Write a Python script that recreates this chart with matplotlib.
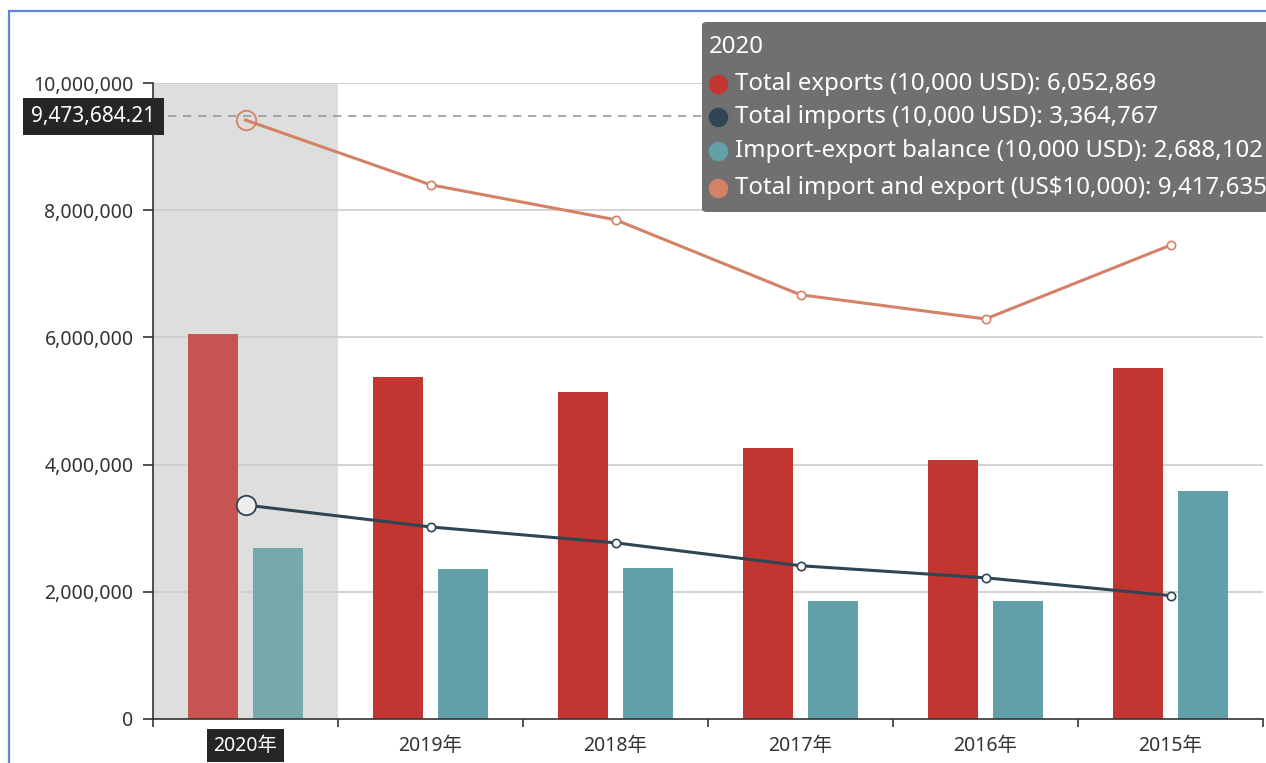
import numpy as np
import matplotlib.pyplot as plt
from matplotlib.patches import FancyBboxPatch, Rectangle
from matplotlib.lines import Line2D
from matplotlib.ticker import FuncFormatter

plt.rcParams['font.family'] = ['Noto Sans', 'Noto Sans CJK SC', 'DejaVu Sans']

years = ['2020年', '2019年', '2018年', '2017年', '2016年', '2015年']
exports = [6052869, 5380000, 5140000, 4260000, 4070000, 5520000]
imports = [3364767, 3020000, 2770000, 2410000, 2220000, 1940000]
balance = [2688102, 2360000, 2370000, 1860000, 1860000, 3580000]
total = [9417635, 8400000, 7850000, 6670000, 6290000, 7450000]
pointer_value = 9473684.21

tooltip_title = '2020'
tooltip_rows = [
    ('Total exports (10,000 USD): 6,052,869', '#c23531'),
    ('Total imports (10,000 USD): 3,364,767', '#2f4554'),
    ('Import-export balance (10,000 USD): 2,688,102', '#61a0a8'),
    ('Total import and export (US$10,000): 9,417,635', '#d48265'),
]

W, H = 1266, 763
fig = plt.figure(figsize=(W / 100, H / 100), dpi=100)


def fx(x):
    return x / W


def fy(y):
    return 1 - y / H


ax = fig.add_axes([fx(153), fy(719), fx(1263) - fx(153), fy(83) - fy(719)])

x = np.arange(len(years))
bw = 50 / 185
off = 32.5 / 185

# axis pointer shadow on 2020
ax.axvspan(-0.5, 0.5, color='#dedede', zorder=0, lw=0)

ex_colors = ['#c75450'] + ['#c23531'] * (len(years) - 1)
bal_colors = ['#77a8ad'] + ['#61a0a8'] * (len(years) - 1)
ax.bar(x - off, exports, width=bw, color=ex_colors, zorder=2)
ax.bar(x + off, balance, width=bw, color=bal_colors, zorder=2)

rest = list(range(1, len(years)))
ax.plot(x, imports, color='#2f4554', lw=2.2, marker='o', ms=6,
        mfc='white', mec='#2f4554', mew=1.2, markevery=rest, zorder=4)
ax.plot(x[:1], imports[:1], ls='none', marker='o', ms=14,
        mfc='#eeeeee', mec='#2f4554', mew=1.3, zorder=5)
ax.plot(x, total, color='#d48265', lw=2.2, marker='o', ms=6,
        mfc='white', mec='#d48265', mew=1.2, markevery=rest, zorder=4)
ax.plot(x[:1], total[:1], ls='none', marker='o', ms=14,
        mfc='none', mec='#d48265', mew=1.3, zorder=5)

# dashed pointer line and its label
ax.axhline(pointer_value, color='#999999', lw=1.2, ls=(0, (5, 4)), zorder=3)
ax.text(0.002, pointer_value, '9,473,684.21', transform=ax.get_yaxis_transform(),
        ha='right', va='center', color='white', fontsize=15,
        bbox=dict(boxstyle='square,pad=0.4', fc='#262626', ec='none'))

ax.set_xlim(-0.5, 5.5)
ax.set_ylim(0, 10000000)
ax.set_yticks(np.arange(0, 10000001, 2000000))
ax.yaxis.set_major_formatter(FuncFormatter(lambda v, p: '{:,}'.format(int(v))))
for v in range(2000000, 10000001, 2000000):
    ax.axhline(v, color='#cccccc', lw=1.2, zorder=1)

ax.set_xticks(x)
ax.set_xticklabels(years)
ax.set_xticks(np.arange(-0.5, 6, 1), minor=True)
ax.tick_params(axis='x', which='major', length=0, pad=12, labelsize=14,
               labelcolor='#333333')
ax.tick_params(axis='x', which='minor', length=6, width=1.2, color='#333333')
ax.tick_params(axis='y', length=7, width=1.2, color='#333333', pad=7,
               labelsize=14, labelcolor='#333333')
lab0 = ax.get_xticklabels()[0]
lab0.set_color('white')
lab0.set_bbox(dict(boxstyle='square,pad=0.35', fc='#262626', ec='none'))

for s in ['top', 'right']:
    ax.spines[s].set_visible(False)
for s in ['left', 'bottom']:
    ax.spines[s].set_color('#333333')
    ax.spines[s].set_linewidth(1.2)

# tooltip
tip = FancyBboxPatch((fx(702), fy(212)), fx(1290) - fx(702), fy(22) - fy(212),
                     boxstyle='round,pad=0,rounding_size=0.004',
                     transform=fig.transFigure, fc='#6b6b6b', ec='none',
                     alpha=0.97, zorder=10)
fig.add_artist(tip)
fig.text(fx(709), fy(47), tooltip_title, color='white', fontsize=17.3,
         va='center', ha='left', zorder=11)
row_y = [84, 117, 151, 188]
for (label, col), ry in zip(tooltip_rows, row_y):
    fig.add_artist(Line2D([fx(718)], [fy(ry)], marker='o', ms=13, color=col,
                          transform=fig.transFigure, zorder=11))
    fig.text(fx(735), fy(ry), label, color='white', fontsize=17.3,
             va='center', ha='left', zorder=11)

# outer frame
fig.add_artist(Rectangle((fx(9), fy(H + 20)), fx(W + 20), fy(11) - fy(H + 20),
                         transform=fig.transFigure, fill=False,
                         ec='#5b87d8', lw=1.6, zorder=12))

fig.savefig('out.png', dpi=100)
